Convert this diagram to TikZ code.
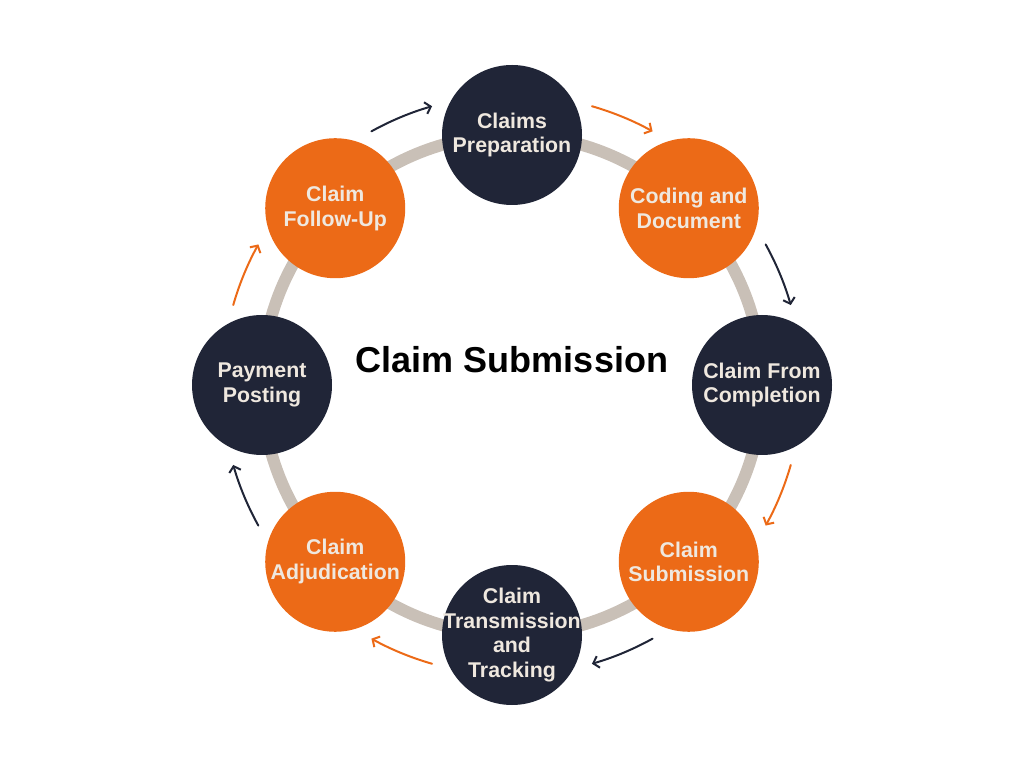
\documentclass[tikz,border=0pt]{standalone}
\usepackage{fontspec}
\setmainfont{Liberation Sans}
\usetikzlibrary{arrows.meta, calc}
\definecolor{navy}{HTML}{202537}
\definecolor{rust}{HTML}{EC6A17}
\definecolor{ringgray}{HTML}{C9C0B7}
\definecolor{cream}{HTML}{EFE8DF}
\tikzset{
  stage/.style={circle, fill=#1, minimum size=105pt, inner sep=-12pt, align=center,
    text=cream, font=\fontsize{16}{18.5}\selectfont\bfseries},
  flow/.style={draw=#1, line width=1.5pt, line cap=round,
    -{Straight Barb[length=4pt,width=9pt]}}
}
\begin{document}
\begin{tikzpicture}[x=0.75pt, y=0.75pt]
\useasboundingbox (0,0) rectangle (1024,768);
\coordinate (c) at (512,383);
\draw[ringgray, line width=9pt] (c) circle[radius=250];

% stages, clockwise from the top
\foreach \ang/\nm/\col/\txt in {90/prep/navy/{Claims\\Preparation},
    45/coding/rust/{Coding and\\Document}, 0/form/navy/{Claim From\\Completion},
    -45/subm/rust/{Claim\\Submission}, -90/trans/navy/{Claim\\Transmission\\and\\Tracking},
    -135/adj/rust/{Claim\\Adjudication}, 180/pay/navy/{Payment\\Posting},
    135/follow/rust/{Claim\\Follow-Up}}
  \node[stage=\col] (\nm) at ($(c)+(\ang:250)$) {\txt};

\node[font=\fontsize{27}{30}\selectfont\bfseries] (title) at (512,408) {Claim Submission};

% arrows between the stages
\foreach \mid/\col [count=\i] in {112.5/navy, 67.5/rust, 22.5/navy, -22.5/rust,
    -67.5/navy, -112.5/rust, -157.5/navy, 157.5/rust} {
  \coordinate (t\i) at ($(c)+(\mid+6.5:290)$);
  \draw[flow=\col] (t\i) arc[start angle=\mid+6.5, end angle=\mid-6.5, radius=290];
}
\end{tikzpicture}
\end{document}
